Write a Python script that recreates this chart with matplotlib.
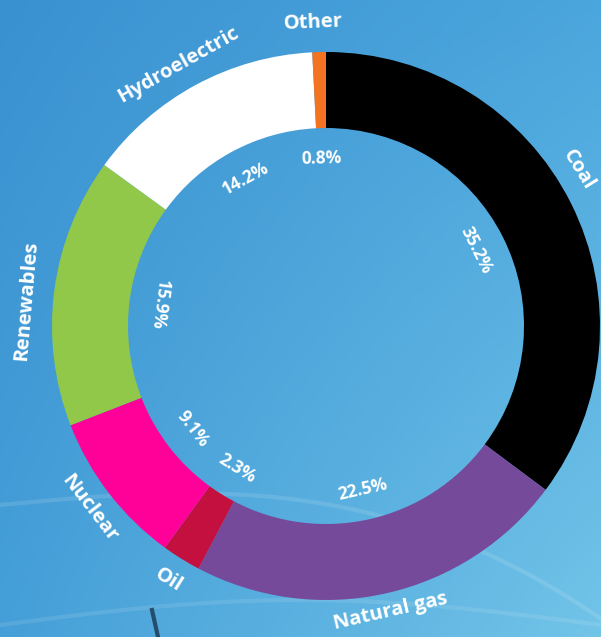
import numpy as np
import matplotlib
matplotlib.use("Agg")
import matplotlib.pyplot as plt

# ---- data ----
categories = ["Coal", "Natural gas", "Oil", "Nuclear", "Renewables", "Hydroelectric", "Other"]
shares = [35.2, 22.5, 2.3, 9.1, 15.9, 14.2, 0.8]
colors = ["#000000", "#764a9b", "#c4103f", "#ff0099", "#92c84a", "#ffffff", "#f47320"]
label_angle_offsets = [5.0, 0, 0, 0, 2.5, 1.0, 1.0]
label_radius_offsets = [-2, -6, 0, 0, 2, 1, 5]

W, H = 601, 637
fig = plt.figure(figsize=(W / 100, H / 100), dpi=100)
ax = fig.add_axes([0, 0, 1, 1])

# gradient background
tl = np.array([0x3a, 0x91, 0xd0]) / 255
tr = np.array([0x4b, 0xa6, 0xdd]) / 255
bl = np.array([0x45, 0x9f, 0xd8]) / 255
br = np.array([0x72, 0xc4, 0xe8]) / 255
yy, xx = np.mgrid[0:1:200j, 0:1:200j]
img = (tl[None, None, :] * ((1 - xx) * (1 - yy))[..., None]
       + tr[None, None, :] * (xx * (1 - yy))[..., None]
       + bl[None, None, :] * ((1 - xx) * yy)[..., None]
       + br[None, None, :] * (xx * yy)[..., None])
ax.imshow(img, extent=[0, W, 0, H], origin="upper", aspect="auto", zorder=0)

# faint background curves
t = np.linspace(0, 1, 200)
ax.plot(t * 601, H - (505 - 20 * np.sin(np.pi * t * 0.9) + 120 * t ** 3), color="white", alpha=0.12, lw=3, zorder=1)
ax.plot(t * 601, H - (625 - 25 * np.sin(np.pi * t)), color="white", alpha=0.10, lw=3, zorder=1)
ax.plot([152, 158], [H - 610, H - 637], color="#1a3550", lw=3, alpha=0.8, zorder=1)

cx, cy = 326, H - 326
R, width = 274, 76

wedges, _ = ax.pie(shares, colors=colors, startangle=90, counterclock=False,
                   center=(cx, cy), radius=R, frame=True,
                   wedgeprops=dict(width=width, edgecolor="none", linewidth=0))
ax.set_xlim(0, W)
ax.set_ylim(0, H)
ax.axis("off")
for w in wedges:
    w.set_zorder(2)

font = dict(family=["Open Sans", "DejaVu Sans"], weight="bold", color="white")

def rot_for(angle):
    a = (angle + 360) % 360
    if a <= 172:
        return a - 90
    return a + 90

for w, cat, val, off, roff in zip(wedges, categories, shares, label_angle_offsets, label_radius_offsets):
    mid = (w.theta1 + w.theta2) / 2.0
    rad = np.deg2rad(mid)
    r_in = 168
    ax.text(cx + r_in * np.cos(rad), cy + r_in * np.sin(rad), f"{val:.1f}%",
            rotation=rot_for(mid), rotation_mode="anchor", ha="center", va="center",
            fontsize=12.5, zorder=3, **font)
    amid = mid + off
    arad = np.deg2rad(amid)
    r_out = 299 + roff
    a = (amid + 360) % 360
    rot = a - 90 if a <= 180 else a + 90
    ax.text(cx + r_out * np.cos(arad), cy + r_out * np.sin(arad), cat,
            rotation=rot, rotation_mode="anchor", ha="center", va="center",
            fontsize=14.5, zorder=3, **font)

fig.savefig("out.png", dpi=100)
